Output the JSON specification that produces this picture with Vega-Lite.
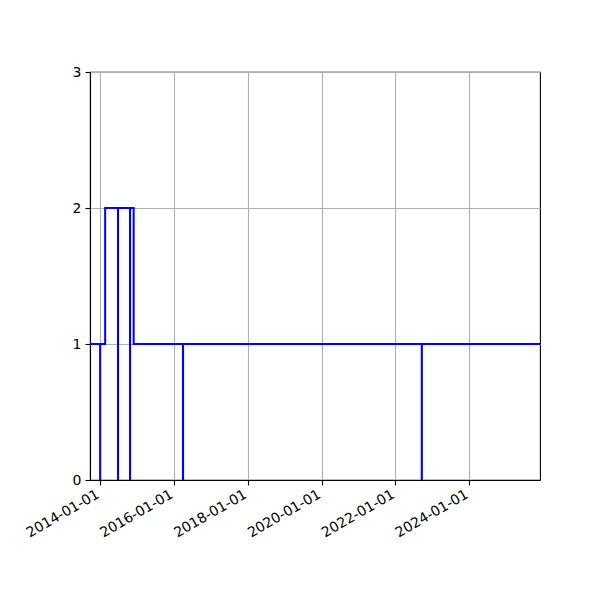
{
  "$schema": "https://vega.github.io/schema/vega-lite/v6.json",
  "width": 450,
  "height": 408,
  "autosize": {"type": "none"},
  "padding": {"left": 90, "top": 72, "right": 60, "bottom": 120},
  "background": "white",
  "config": {
    "view": {"stroke": "black", "strokeWidth": 1.1},
    "axis": {
      "labelFont": "DejaVu Sans",
      "labelFontSize": 14,
      "labelColor": "black",
      "domainColor": "black",
      "domainWidth": 1.1,
      "tickColor": "black",
      "tickWidth": 1.1,
      "tickSize": 5,
      "labelPadding": 4,
      "gridColor": "#b0b0b0",
      "gridWidth": 1.1,
      "title": null
    }
  },
  "data": {
    "values": [
      {"date": "2013-09-01", "count": 1},
      {"date": "2013-12-31", "count": 0},
      {"date": "2014-01-01", "count": 1},
      {"date": "2014-02-19", "count": 2},
      {"date": "2014-06-26", "count": 0},
      {"date": "2014-06-27", "count": 2},
      {"date": "2014-10-23", "count": 0},
      {"date": "2014-10-24", "count": 2},
      {"date": "2014-11-28", "count": 1},
      {"date": "2016-03-30", "count": 0},
      {"date": "2016-03-31", "count": 1},
      {"date": "2022-09-18", "count": 0},
      {"date": "2022-09-19", "count": 1},
      {"date": "2026-01-01", "count": 1}
    ]
  },
  "mark": {"type": "line", "interpolate": "step-after", "color": "#0000ff", "strokeWidth": 2, "clip": true},
  "encoding": {
    "x": {
      "field": "date",
      "type": "temporal",
      "scale": {
        "type": "utc",
        "domain": [
          {"year": 2013, "month": 9, "date": 22, "utc": true},
          {"year": 2025, "month": 12, "date": 1, "utc": true}
        ]
      },
      "axis": {
        "values": [
          {"year": 2014, "month": 1, "date": 1, "utc": true},
          {"year": 2016, "month": 1, "date": 1, "utc": true},
          {"year": 2018, "month": 1, "date": 1, "utc": true},
          {"year": 2020, "month": 1, "date": 1, "utc": true},
          {"year": 2022, "month": 1, "date": 1, "utc": true},
          {"year": 2024, "month": 1, "date": 1, "utc": true}
        ],
        "labelExpr": "utcFormat(datum.value, '%Y-%m-%d')",
        "labelAngle": -30,
        "labelAlign": "right",
        "labelBaseline": "top",
        "labelOffset": -6,
        "labelPadding": 2,
        "labelOverlap": false,
        "grid": true
      }
    },
    "y": {
      "field": "count",
      "type": "quantitative",
      "scale": {"domain": [0, 3], "nice": false, "zero": true},
      "axis": {"values": [0, 1, 2, 3], "format": "d", "grid": true}
    }
  }
}
